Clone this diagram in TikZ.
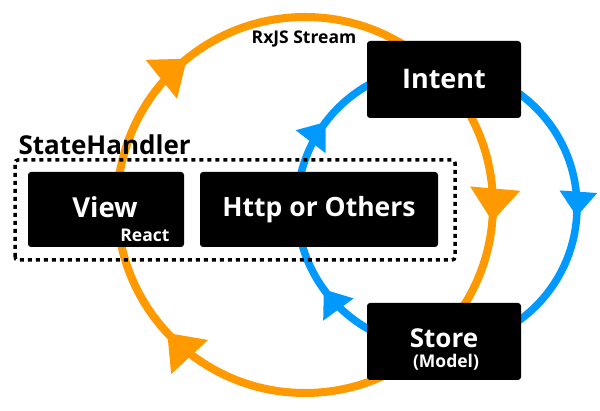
\documentclass[tikz,border=0pt]{standalone}
\usepackage{fontspec}
\setmainfont{Open Sans}
\usetikzlibrary{arrows.meta,decorations.markings}
\definecolor{streamorange}{RGB}{255,153,0}
\definecolor{streamblue}{RGB}{0,153,255}
\begin{document}
\begin{tikzpicture}[x=1pt,y=1pt,
	block/.style={fill=black,rounded corners=3pt,text=white,inner sep=0pt,font=\bfseries\fontsize{26.5}{28}\selectfont},
	smalltext/.style={font=\bfseries\fontsize{17.5}{18}\selectfont},
	orangeloop/.style={draw=streamorange,line width=8pt,postaction={decorate},
		decoration={markings,
			mark=at position 0.142 with {\arrow[streamorange]{Triangle[width=48pt,length=33pt]}},
			mark=at position 0.514 with {\arrow[streamorange]{Triangle[width=48pt,length=33pt]}},
			mark=at position 0.881 with {\arrow[streamorange]{Triangle[width=48pt,length=33pt]}}}},
	blueloop/.style={draw=streamblue,line width=7.5pt,postaction={decorate},
		decoration={markings,
			mark=at position 0.104 with {\arrow[streamblue]{Triangle[width=36pt,length=25pt]}},
			mark=at position 0.511 with {\arrow[streamblue]{Triangle[width=36pt,length=25pt]}},
			mark=at position 0.900 with {\arrow[streamblue]{Triangle[width=36pt,length=25pt]}}}}]
\useasboundingbox (0,0) rectangle (600,411);

% stream loops
\coordinate (rxjs) at (305,206);
\coordinate (model) at (437,204);
\draw[orangeloop] (rxjs) ++(180:188) arc[start angle=180,end angle=-180,radius=188];
\draw[blueloop] (model) ++(180:140) arc[start angle=180,end angle=-180,radius=140];

% state handler group
\draw[line width=3.5pt,dash pattern=on 4pt off 4pt,rounded corners=3pt] (15,151) rectangle (455,251);
\node[anchor=base west,font=\bfseries\fontsize{26}{28}\selectfont] (statehandler) at (15,256) {StateHandler};
\node[anchor=base,smalltext] (stream) at (304,367) {RxJS Stream};

% blocks
\node[block,minimum width=156pt,minimum height=75pt] (view) at (106,201.5) {};
\node[anchor=base,text=white,font=\bfseries\fontsize{27.5}{28}\selectfont] (viewlabel) at (105,193) {View};
\node[anchor=base east,text=white,smalltext] (react) at (173,169) {React};
\node[block,minimum width=238pt,minimum height=75pt] (http) at (319,201.5) {Http or Others};
\node[block,minimum width=154pt,minimum height=77pt,font=\bfseries\fontsize{27}{30}\selectfont] (intent) at (444,331.5) {Intent};
\node[block,minimum width=154pt,minimum height=77pt] (store) at (444,69.5) {};
\node[anchor=base,text=white,font=\bfseries\fontsize{26}{28}\selectfont] (storelabel) at (444,63) {Store};
\node[anchor=base,text=white,smalltext] (modellabel) at (446,43) {(Model)};
\end{tikzpicture}
\end{document}
